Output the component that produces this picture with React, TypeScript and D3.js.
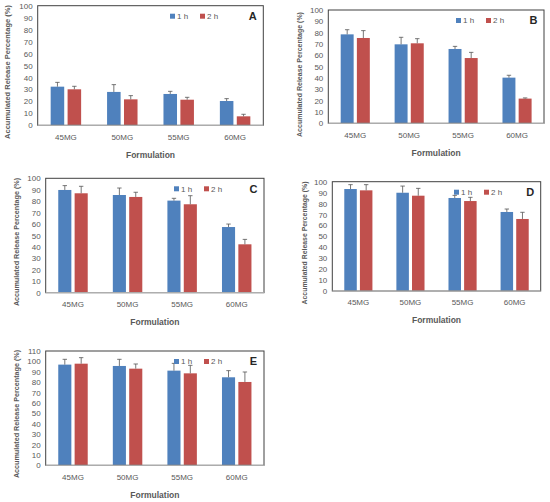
import React, { useEffect, useRef } from "react";
import * as d3 from "d3";

// data
const categories = ["45MG", "50MG", "55MG", "60MG"];
const seriesNames = ["1 h", "2 h"];
const panelLetters = ["A", "B", "C", "D", "E"];
const yMaxes = [100, 100, 100, 100, 110];

const mean1h = [
  [32.3, 27.9, 26.2, 20.3],
  [78.5, 69.7, 65.6, 40.3],
  [89.8, 85.4, 80.5, 57.4],
  [93.3, 89.9, 85.1, 72.3],
  [96.9, 95.6, 91.1, 84.7],
];
const mean2h = [
  [30.1, 21.7, 21.4, 7.5],
  [75.3, 70.6, 57.6, 21.8],
  [86.9, 83.7, 77.3, 42.3],
  [92.1, 87.2, 82.3, 65.9],
  [97.8, 93.0, 88.5, 80.2],
];
const err1h = [
  [3.6, 6.1, 2.2, 2.0],
  [4.1, 6.2, 2.3, 2.1],
  [3.8, 6.1, 2.0, 2.6],
  [4.0, 6.1, 2.4, 2.7],
  [5.1, 6.4, 7.0, 6.4],
];
const err2h = [
  [2.5, 3.1, 2.0, 1.7],
  [6.5, 4.1, 5.0, 0.6],
  [6.1, 4.1, 7.5, 4.3],
  [5.2, 6.7, 3.4, 6.1],
  [5.8, 4.5, 7.7, 9.6],
];

const yLabel = "Accumulated Release Percentage (%)";
const xLabel = "Formulation";

// panel placement on the page
const layout = [
  { left: 37.7, right: 263.3, top: 5.7, bottom: 125.3, labX: 7, labY: 72, labSize: 7.5, legX: 170 },
  { left: 328.3, right: 544, top: 10, bottom: 123.3, labX: 300, labY: 74.5, labSize: 7, legX: 456 },
  { left: 45.7, right: 264, top: 178.3, bottom: 292.7, labX: 16.7, labY: 242, labSize: 7.2, legX: 174 },
  { left: 332.3, right: 540.7, top: 181.7, bottom: 291, labX: 305, labY: 243, labSize: 6.9, legX: 454 },
  { left: 45.7, right: 264, top: 351, bottom: 465.3, labX: 16.7, labY: 414, labSize: 7.2, legX: 174 },
];

const colors = ["#4F81BD", "#C0504D"];
const font = "'Liberation Sans', Arial, sans-serif";

export default function App() {
  const svgRef = useRef<SVGSVGElement | null>(null);

  useEffect(() => {
    if (!svgRef.current) return;
    const root = d3.select(svgRef.current);
    root.selectAll("*").remove();

    layout.forEach((p, i) => {
      const g = root.append("g");
      const means = [mean1h[i], mean2h[i]];
      const errs = [err1h[i], err2h[i]];

      const x0 = d3
        .scaleBand<string>()
        .domain(categories)
        .range([p.left, p.right])
        .paddingInner(0.46)
        .paddingOuter(0.23);
      const x1 = d3
        .scaleBand<string>()
        .domain(seriesNames)
        .range([0, x0.bandwidth()])
        .paddingInner(0.2);
      const y = d3.scaleLinear().domain([0, yMaxes[i]]).range([p.bottom, p.top]);

      // bars + error bars
      seriesNames.forEach((s, si) => {
        categories.forEach((c, ci) => {
          const bx = (x0(c) as number) + (x1(s) as number);
          const v = means[si][ci];
          g.append("rect")
            .attr("x", bx)
            .attr("y", y(v))
            .attr("width", x1.bandwidth())
            .attr("height", p.bottom - y(v))
            .attr("fill", colors[si]);
          const cx = bx + x1.bandwidth() / 2;
          const top = y(v + errs[si][ci]);
          g.append("line")
            .attr("x1", cx).attr("x2", cx)
            .attr("y1", y(v)).attr("y2", top)
            .attr("stroke", "#555").attr("stroke-width", 0.8);
          g.append("line")
            .attr("x1", cx - 2.2).attr("x2", cx + 2.2)
            .attr("y1", top).attr("y2", top)
            .attr("stroke", "#555").attr("stroke-width", 0.8);
        });
      });

      // frame
      g.append("rect")
        .attr("x", p.left)
        .attr("y", p.top)
        .attr("width", p.right - p.left)
        .attr("height", p.bottom - p.top)
        .attr("fill", "none")
        .attr("stroke", "#404040")
        .attr("stroke-width", 1);
      g.append("line")
        .attr("x1", p.left).attr("x2", p.right)
        .attr("y1", p.bottom).attr("y2", p.bottom)
        .attr("stroke", "#BFBFBF").attr("stroke-width", 1);

      // y axis
      const ya = g
        .append("g")
        .attr("transform", `translate(${p.left - 5},0)`)
        .call(d3.axisLeft(y).ticks(yMaxes[i] / 10).tickSize(0).tickPadding(0));
      ya.select(".domain").remove();
      ya.selectAll("text")
        .attr("fill", "#595959")
        .style("font-family", font)
        .style("font-size", "8px");

      // x axis
      const xa = g
        .append("g")
        .attr("transform", `translate(0,${p.bottom + 11.5})`)
        .call(d3.axisBottom(x0).tickSize(0).tickPadding(0));
      xa.select(".domain").remove();
      xa.selectAll("text")
        .attr("fill", "#595959")
        .attr("dy", "0.35em")
        .style("font-family", font)
        .style("font-size", "8px");

      g.append("text")
        .attr("x", (p.left + p.right) / 2)
        .attr("y", p.bottom + 29.5)
        .attr("dy", "0.35em")
        .attr("text-anchor", "middle")
        .attr("fill", "#595959")
        .style("font-family", font)
        .style("font-size", "8.5px")
        .style("font-weight", "bold")
        .text(xLabel);

      g.append("text")
        .attr("transform", `translate(${p.labX},${p.labY}) rotate(-90)`)
        .attr("dy", "0.35em")
        .attr("text-anchor", "middle")
        .attr("fill", "#595959")
        .style("font-family", font)
        .style("font-size", `${p.labSize}px`)
        .style("font-weight", "bold")
        .text(yLabel);

      // legend
      const ly = p.top + 10.5;
      seriesNames.forEach((s, si) => {
        const lx = p.legX + si * 30;
        g.append("rect")
          .attr("x", lx).attr("y", ly - 2.5)
          .attr("width", 5).attr("height", 5)
          .attr("fill", colors[si]);
        g.append("text")
          .attr("x", lx + 7)
          .attr("y", ly)
          .attr("dy", "0.35em")
          .attr("fill", "#595959")
          .style("font-family", font)
          .style("font-size", "8px")
          .text(s);
      });

      // panel letter
      g.append("text")
        .attr("x", p.right - 10.5)
        .attr("y", ly)
        .attr("dy", "0.36em")
        .attr("text-anchor", "middle")
        .attr("fill", "#262626")
        .style("font-family", font)
        .style("font-size", "11px")
        .style("font-weight", "bold")
        .text(panelLetters[i]);
    });
  }, []);

  return (
    <svg
      ref={svgRef}
      width={550}
      height={502}
      style={{ position: "absolute", left: 0, top: 0, background: "#fff" }}
    />
  );
}
